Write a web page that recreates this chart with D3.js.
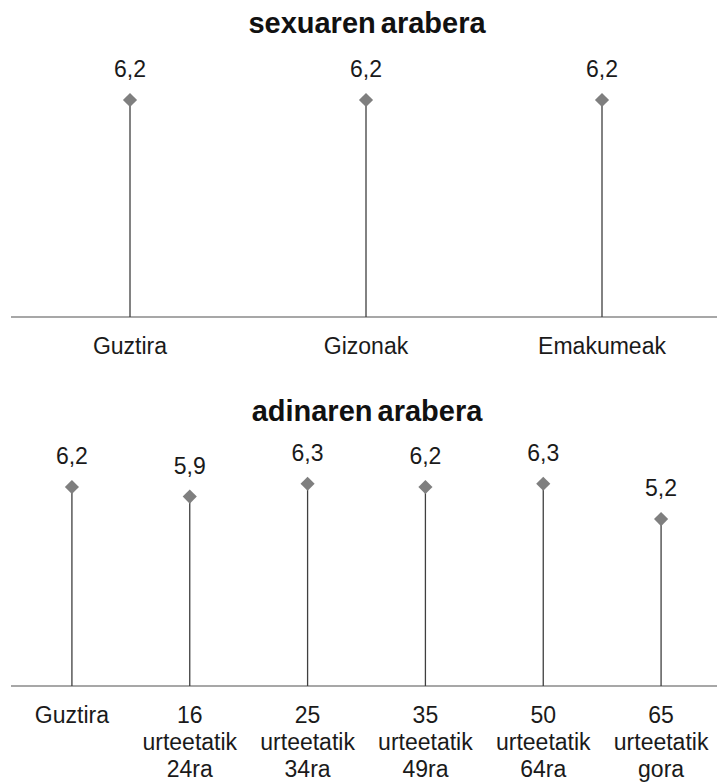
<!DOCTYPE html>
<html>
<head>
<meta charset="utf-8">
<script src="https://cdn.jsdelivr.net/npm/d3@7"></script>
<style>
  html, body { margin: 0; padding: 0; background: #ffffff; }
  svg { display: block; font-family: "Liberation Sans", Arial, sans-serif; }
</style>
</head>
<body>
<svg id="chart" width="717" height="782"></svg>
<script>
// ---- data ----
const sexTitle = "sexuaren arabera";
const sexCategories = ["Guztira", "Gizonak", "Emakumeak"];
const sexValues = [6.2, 6.2, 6.2];

const ageTitle = "adinaren arabera";
const ageCategories = ["Guztira", "16 urteetatik 24ra", "25 urteetatik 34ra", "35 urteetatik 49ra", "50 urteetatik 64ra", "65 urteetatik gora"];
const ageValues = [6.2, 5.9, 6.3, 6.2, 6.3, 5.2];

// ---- drawing ----
const svg = d3.select("#chart");
const W = 717;
const loc = d3.formatLocale({decimal: ",", thousands: ".", grouping: [3], currency: ["", "€"]});
const fmt = loc.format(".1f");

function panel(opts) {
  const {title, categories, values, titleY, axisY, topY, xRange} = opts;
  const g = svg.append("g");
  const x = d3.scaleBand().domain(categories).range(xRange).paddingInner(0).paddingOuter(0);
  const y = d3.scaleLinear().domain([0, 7]).range([axisY, topY]);

  g.append("text")
    .attr("x", 367).attr("y", titleY)
    .attr("text-anchor", "middle")
    .attr("font-size", 29).attr("font-weight", "bold")
    .attr("word-spacing", -3)
    .attr("fill", "#111")
    .text(title);

  // axis line
  const axis = d3.axisBottom(x).tickSize(0).tickSizeOuter(0).tickPadding(0);
  const ax = g.append("g").attr("transform", `translate(0,${axisY})`).call(axis);
  ax.select(".domain").attr("stroke", "#8a8a8a").attr("stroke-width", 1.5)
    .attr("d", `M11,0H${W}`);
  ax.selectAll(".tick text").each(function(d) {
    const t = d3.select(this);
    t.text(null).attr("dy", null).attr("y", 0)
      .attr("font-size", 23).attr("fill", "#1a1a1a")
      .attr("font-family", "'Liberation Sans', Arial, sans-serif");
    const parts = d.split(" ");
    parts.forEach((p, i) => {
      t.append("tspan").attr("x", 0).attr("y", 37 + i * 27).text(p);
    });
  });

  const cx = d => x(d) + x.bandwidth() / 2;

  // stems
  g.selectAll("line.stem").data(categories).join("line")
    .attr("class", "stem")
    .attr("x1", cx).attr("x2", cx)
    .attr("y1", y(0)).attr("y2", (d, i) => y(values[i]))
    .attr("stroke", "#3f3f3f").attr("stroke-width", 1.3);

  // markers
  const sym = d3.symbol().type(d3.symbolSquare).size(100);
  g.selectAll("path.mark").data(categories).join("path")
    .attr("class", "mark")
    .attr("d", sym)
    .attr("transform", (d, i) => `translate(${cx(d)},${y(values[i])}) rotate(45)`)
    .attr("fill", "#7f7f7f");

  // value labels
  g.selectAll("text.val").data(categories).join("text")
    .attr("class", "val")
    .attr("x", cx).attr("y", (d, i) => y(values[i]) - 23)
    .attr("text-anchor", "middle")
    .attr("font-size", 23).attr("fill", "#1a1a1a")
    .text((d, i) => fmt(values[i]));
}

panel({title: sexTitle, categories: sexCategories, values: sexValues,
       titleY: 33, axisY: 317, topY: 317 - 7 * 35, xRange: [12, 720]});
panel({title: ageTitle, categories: ageCategories, values: ageValues,
       titleY: 421, axisY: 686, topY: 686 - 7 * 32.1, xRange: [13, 720]});
</script>
</body>
</html>
